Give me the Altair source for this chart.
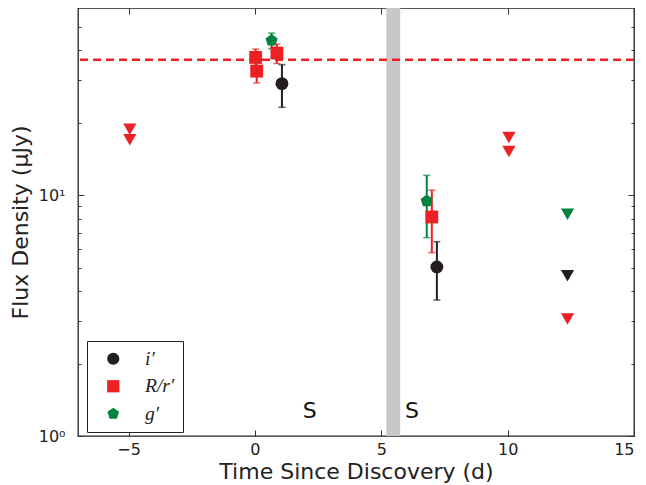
import altair as alt
import pandas as pd

# ---- categories / styles ----
BANDS = ["i′", "R/r′", "g′"]
BAND_COLORS = ["#231f20", "#ed2024", "#00843d"]
PENTAGON = "M0,-1L0.951,-0.309L0.588,0.809L-0.588,0.809L-0.951,-0.309Z"
BAND_SHAPES = ["circle", "square", PENTAGON]

# ---- detections (time in d, flux in microJy, error range) ----
det_band = ["g′", "g′", "R/r′", "R/r′", "R/r′", "R/r′", "i′", "i′"]
det_time = [0.66, 6.80, 0.03, 0.07, 0.87, 7.00, 1.07, 7.20]
det_flux = [44.0, 9.47, 37.4, 32.8, 39.0, 8.13, 29.1, 5.04]
det_lo = [40.7, 6.67, 34.5, 29.3, 35.3, 5.78, 23.2, 3.67]
det_hi = [47.2, 12.1, 40.5, 36.3, 42.5, 10.5, 34.9, 6.42]

# ---- upper limits ----
lim_band = ["R/r′", "R/r′", "R/r′", "R/r′", "R/r′", "i′", "g′"]
lim_time = [-4.95, -4.95, 10.05, 10.05, 12.37, 12.37, 12.37]
lim_flux = [18.8, 17.0, 17.4, 15.2, 3.06, 4.63, 8.34]

# ---- other annotations ----
host_level = [36.6]
gap_start = [5.2]
gap_end = [5.75]
s_time = [2.17, 6.22]
s_flux = [1.275, 1.275]
s_text = ["S", "S"]

# ---- axes ----
x_domain = [-7, 15]
y_domain = [1, 60]
x_major = [-5, 0, 5, 10, 15]
y_major = [1, 10]
y_minor = [2, 3, 4, 5, 6, 7, 8, 9, 20, 30, 40, 50]

det = pd.DataFrame({"band": det_band, "time": det_time, "flux": det_flux,
                    "lo": det_lo, "hi": det_hi})
lim = pd.DataFrame({"band": lim_band, "time": lim_time, "flux": lim_flux})
gap = pd.DataFrame({"start": gap_start, "end": gap_end})
host = pd.DataFrame({"flux": host_level})
sdf = pd.DataFrame({"time": s_time, "flux": s_flux, "label": s_text})

xs = alt.Scale(domain=x_domain, nice=False, zero=False)
ys = alt.Scale(type="log", domain=y_domain, nice=False)
cs = alt.Scale(domain=BANDS, range=BAND_COLORS)
ss = alt.Scale(domain=BANDS, range=BAND_SHAPES)

TICK = "#333333"
FONT = "DejaVu Sans"

def ax(orient, values, size, **kw):
    return alt.Axis(orient=orient, values=values, tickSize=alt.ExprRef(expr=str(-size)),
                    domain=False, grid=False, tickColor=TICK, tickWidth=1, **kw)

x_bottom = ax("bottom", x_major, 6, labelPadding=11, labelFont=FONT, labelFontSize=16,
              labelColor="#222222",
              labelExpr="replace(datum.label, '-', '−')",
              title="Time Since Discovery (d)", titleFont=FONT, titleFontSize=22,
              titleFontWeight="normal", titleColor="#222222", titlePadding=4)
x_top = ax("top", x_major, 6, labels=False, title=None)
y_left_major = ax("left", y_major, 6, labelPadding=19, labelFont=FONT, labelFontSize=16,
                  labelColor="#222222",
                  labelExpr="datum.value >= 10 ? '10¹' : '10⁰'",
                  title="Flux Density (μJy)", titleFont=FONT, titleFontSize=22,
                  titleFontWeight="normal", titleColor="#222222", titlePadding=6)
y_left_minor = ax("left", y_minor, 3, labels=False, title=None)
y_right_major = ax("right", y_major, 6, labels=False, title=None)
y_right_minor = ax("right", y_minor, 3, labels=False, title=None)

legend = alt.Legend(title=None, orient="none", legendX=9, legendY=333,
                    strokeColor="#222222", fillColor="white", padding=8,
                    symbolOffset=8.5, labelOffset=22, rowPadding=6.5,
                    symbolSize=150, labelFont="Liberation Serif", labelFontStyle="italic",
                    labelFontSize=19.5, labelColor="#222222", cornerRadius=0)

band = alt.Chart(gap).mark_rect(color="#c8c8ca").encode(
    x=alt.X("start:Q", scale=xs, axis=None), x2="end:Q")

hline = alt.Chart(host).mark_rule(color="#ed2024", strokeWidth=2.5, strokeDash=[8, 5]).encode(
    y=alt.Y("flux:Q", scale=ys, axis=None))

err = alt.Chart(det).mark_rule(strokeWidth=2).encode(
    x=alt.X("time:Q", scale=xs, axis=None),
    y=alt.Y("lo:Q", scale=ys, axis=y_left_minor), y2="hi:Q",
    color=alt.Color("band:N", scale=cs, legend=None))

caps = alt.Chart(det).transform_fold(["lo", "hi"], as_=["which", "val"]).mark_tick(
    orient="horizontal", size=7, thickness=1.5).encode(
    x=alt.X("time:Q", scale=xs, axis=None),
    y=alt.Y("val:Q", scale=ys, axis=y_right_minor),
    color=alt.Color("band:N", scale=cs, legend=None))

points = alt.Chart(det).mark_point(filled=True, size=165, opacity=1).encode(
    x=alt.X("time:Q", scale=xs, axis=x_bottom),
    y=alt.Y("flux:Q", scale=ys, axis=y_left_major),
    color=alt.Color("band:N", scale=cs, legend=legend),
    shape=alt.Shape("band:N", scale=ss, legend=legend))

lims = alt.Chart(lim).mark_point(filled=True, shape="triangle-down", size=175, opacity=1).encode(
    x=alt.X("time:Q", scale=xs, axis=x_top),
    y=alt.Y("flux:Q", scale=ys, axis=y_right_major),
    color=alt.Color("band:N", scale=cs, legend=None))

stext = alt.Chart(sdf).mark_text(font=FONT, fontSize=22, color="#111111").encode(
    x=alt.X("time:Q", scale=xs, axis=None),
    y=alt.Y("flux:Q", scale=ys, axis=None),
    text="label:N")

chart = alt.layer(band, hline, err, caps, points, lims, stext).resolve_axis(
    x="independent", y="independent"
).resolve_legend(
    color="independent", shape="independent"
).properties(
    width=556, height=428,
    autosize=alt.AutoSizeParams(type="none"),
    padding={"left": 70, "top": 0, "right": 4, "bottom": 48},
).configure_view(stroke="#222222", strokeWidth=1.3)

chart.save("out.html", embed_options={"renderer": "svg", "actions": False})
